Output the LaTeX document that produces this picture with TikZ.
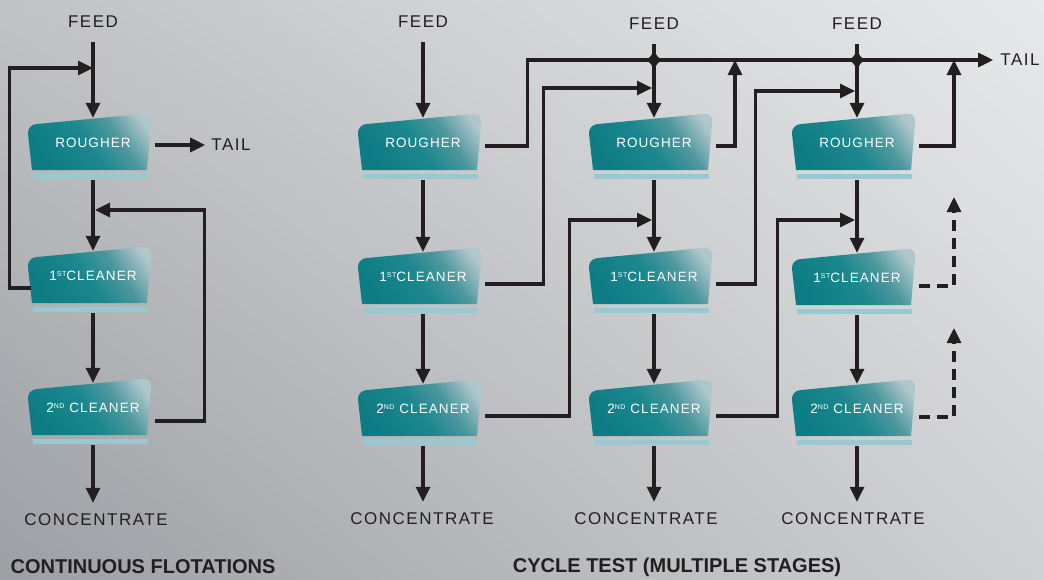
\documentclass[tikz,border=0pt]{standalone}
\usepackage{fontspec}
\setmainfont{Liberation Sans}
\newfontfamily\lblfont[LetterSpace=9]{Liberation Sans}
\newfontfamily\boxfont[LetterSpace=8]{Liberation Sans}
\usetikzlibrary{arrows.meta,calc,shadings}
\definecolor{ink}{HTML}{231F20}
\definecolor{bgTL}{HTML}{C0C2C5}
\definecolor{bgTR}{HTML}{E8E9EA}
\definecolor{bgBL}{HTML}{9C9FA3}
\definecolor{bgBR}{HTML}{CFD0D2}
\definecolor{boxD}{HTML}{0E7C84}
\definecolor{boxD2}{HTML}{1B878E}
\definecolor{boxM}{HTML}{4C979D}
\definecolor{boxL}{HTML}{AFC6CB}
\definecolor{barblue}{HTML}{98C9D1}
\pgfdeclarehorizontalshading{flotshade}{100bp}{color(0bp)=(boxD); color(25bp)=(boxD); color(48bp)=(boxD2); color(63bp)=(boxM); color(78bp)=(boxL); color(100bp)=(boxL)}
\newcommand\supsm[1]{\raisebox{4.5pt}{\fontsize{7}{8}\selectfont #1}}
\newcommand\flotbox[4]{%
  \begin{scope}[shift={(#2,#3)}]
    \shade[shading=flotshade, shading angle=35] (-61,27) [rounded corners=9pt] -- (-66,-18) -- (59,-30) [sharp corners] -- (54,27) -- cycle;
    \fill[barblue] (-60,31) rectangle (55,36);
    \node[boxarea] (#1) at (0,6) {};
    \node[boxtxt] (#1t) at (0,0) {#4};
  \end{scope}}
\tikzset{
  boxarea/.style={rectangle, inner sep=0pt, minimum width=124pt, minimum height=62pt},
  boxtxt/.style={font=\boxfont\fontsize{13.5}{15}\selectfont, text=white, inner sep=0pt},
  lbl/.style={font=\lblfont\fontsize{17}{20}\selectfont, text=ink, inner sep=2pt},
  ttl/.style={font=\bfseries\fontsize{20}{22}\selectfont, text=ink, inner sep=0pt},
  ln/.style={draw=ink, line width=3.2pt},
  arr/.style={ln, -{Triangle[length=15pt,width=14pt]}},
  darr/.style={arr, dash pattern=on 11pt off 7pt},
}
\newcommand\junc[1]{%
  \begin{scope}[shift={(#1)}]
    \fill[ink] (0,-13) .. controls (1.5,-4) and (4,-1.5) .. (10,0) .. controls (4,1.5) and (1.5,4) .. (0,13) .. controls (-1.5,4) and (-4,1.5) .. (-10,0) .. controls (-4,-1.5) and (-1.5,-4) .. (0,-13) -- cycle;
  \end{scope}}
\begin{document}
\begin{tikzpicture}[x=1pt,y=-1pt]
\useasboundingbox (0,0) rectangle (1044,579);
\shade[upper left=bgTL, upper right=bgTR, lower left=bgBL, lower right=bgBR] (0,0) rectangle (1044,579);

% boxes
\flotbox{ar}{93}{143}{ROUGHER}
\flotbox{ac1}{93}{276}{1\supsm{ST}CLEANER}
\flotbox{ac2}{93}{408}{2\supsm{ND} CLEANER}
\flotbox{br}{423}{143}{ROUGHER}
\flotbox{bc1}{423}{277}{1\supsm{ST}CLEANER}
\flotbox{bc2}{423}{409}{2\supsm{ND} CLEANER}
\flotbox{cr}{654}{143}{ROUGHER}
\flotbox{cc1}{654}{277}{1\supsm{ST}CLEANER}
\flotbox{cc2}{654}{409}{2\supsm{ND} CLEANER}
\flotbox{dr}{857}{143}{ROUGHER}
\flotbox{dc1}{857}{278}{1\supsm{ST}CLEANER}
\flotbox{dc2}{857}{409}{2\supsm{ND} CLEANER}

% labels
\node[lbl] (fa) at (93,22) {FEED};
\node[lbl] (fb) at (423,22) {FEED};
\node[lbl] (fc) at (654,24) {FEED};
\node[lbl] (fd) at (857,24) {FEED};
\node[lbl] (ta) at (231,145) {TAIL};
\node[lbl] (tt) at (1020,60) {TAIL};
\node[lbl] (ca) at (96,520) {CONCENTRATE};
\node[lbl] (cb) at (422,519) {CONCENTRATE};
\node[lbl] (cc) at (646,519) {CONCENTRATE};
\node[lbl] (cd) at (853,519) {CONCENTRATE};
\node[ttl] (t1) at (143,567) {CONTINUOUS FLOTATIONS};
\node[ttl] (t2) at (677,567) {CYCLE TEST (MULTIPLE STAGES)};

% coordinates
\coordinate (aj1) at (93,68);
\coordinate (aj2) at (95,210);
\coordinate (jc) at (654,60);
\coordinate (jd) at (857,60);
\coordinate (tc) at (735,60);
\coordinate (td) at (954,60);
\coordinate (kc1) at (652,88);
\coordinate (kd1) at (855,91);
\coordinate (kc2) at (652,220);
\coordinate (kd2) at (855,220);
\coordinate (ed1) at (954,197);
\coordinate (ed2) at (954,328);

% continuous flotation
\draw[arr, shorten <=12pt] (fa.south) -- (ar.north);
\draw[arr] (ar.south) -- (ac1.north);
\draw[arr] (ac1.south) -- (ac2.north);
\draw[arr, shorten >=9pt] (ac2.south) -- (ac2.south |- ca.north);
\draw[arr, shorten >=4pt] ([yshift=4pt]ar.east) -- ([yshift=4pt]ar.east -| ta.west);
\draw[arr] ([yshift=-6pt]ac1.west) -- ++(-21,0) |- (aj1);
\draw[arr] ([yshift=-7pt]ac2.east) -- ++(49,0) |- (aj2);

% cycle test: main line and feeds
\draw[arr, shorten >=5pt] ([yshift=3pt]br.east) -- ++(42,0) |- (tt.west);
\draw[arr, shorten <=12pt] (fb.south) -- (br.north);
\draw[arr, shorten <=12pt] (fc.south) -- (cr.north);
\draw[arr, shorten <=12pt] (fd.south) -- (dr.north);
\junc{jc}
\junc{jd}

% verticals
\draw[arr] (br.south) -- (bc1.north);
\draw[arr] (bc1.south) -- (bc2.north);
\draw[arr, shorten >=9pt] (bc2.south) -- (bc2.south |- cb.north);
\draw[arr] (cr.south) -- (cc1.north);
\draw[arr] (cc1.south) -- (cc2.north);
\draw[arr, shorten >=9pt] (cc2.south) -- (cc2.south |- cc.north);
\draw[arr] (dr.south) -- (dc1.north);
\draw[arr] (dc1.south) -- (dc2.north);
\draw[arr, shorten >=9pt] (dc2.south) -- (dc2.south |- cd.north);

% tails to main line
\draw[arr] ([yshift=3pt]cr.east) -| (tc);
\draw[arr] ([yshift=3pt]dr.east) -| (td);

% cleaner recycles
\draw[arr] ([yshift=-1pt]bc1.east) -- ++(58,0) |- (kc1);
\draw[arr] ([yshift=-1pt]cc1.east) -- ++(39,0) |- (kd1);
\draw[arr] ([yshift=-1pt]bc2.east) -- ++(84,0) |- (kc2);
\draw[arr] ([yshift=-1pt]cc2.east) -- ++(61,0) |- (kd2);
\draw[darr] ([yshift=-2pt]dc1.east) -| (ed1);
\draw[darr] ([yshift=-2pt]dc2.east) -| (ed2);
\end{tikzpicture}
\end{document}
